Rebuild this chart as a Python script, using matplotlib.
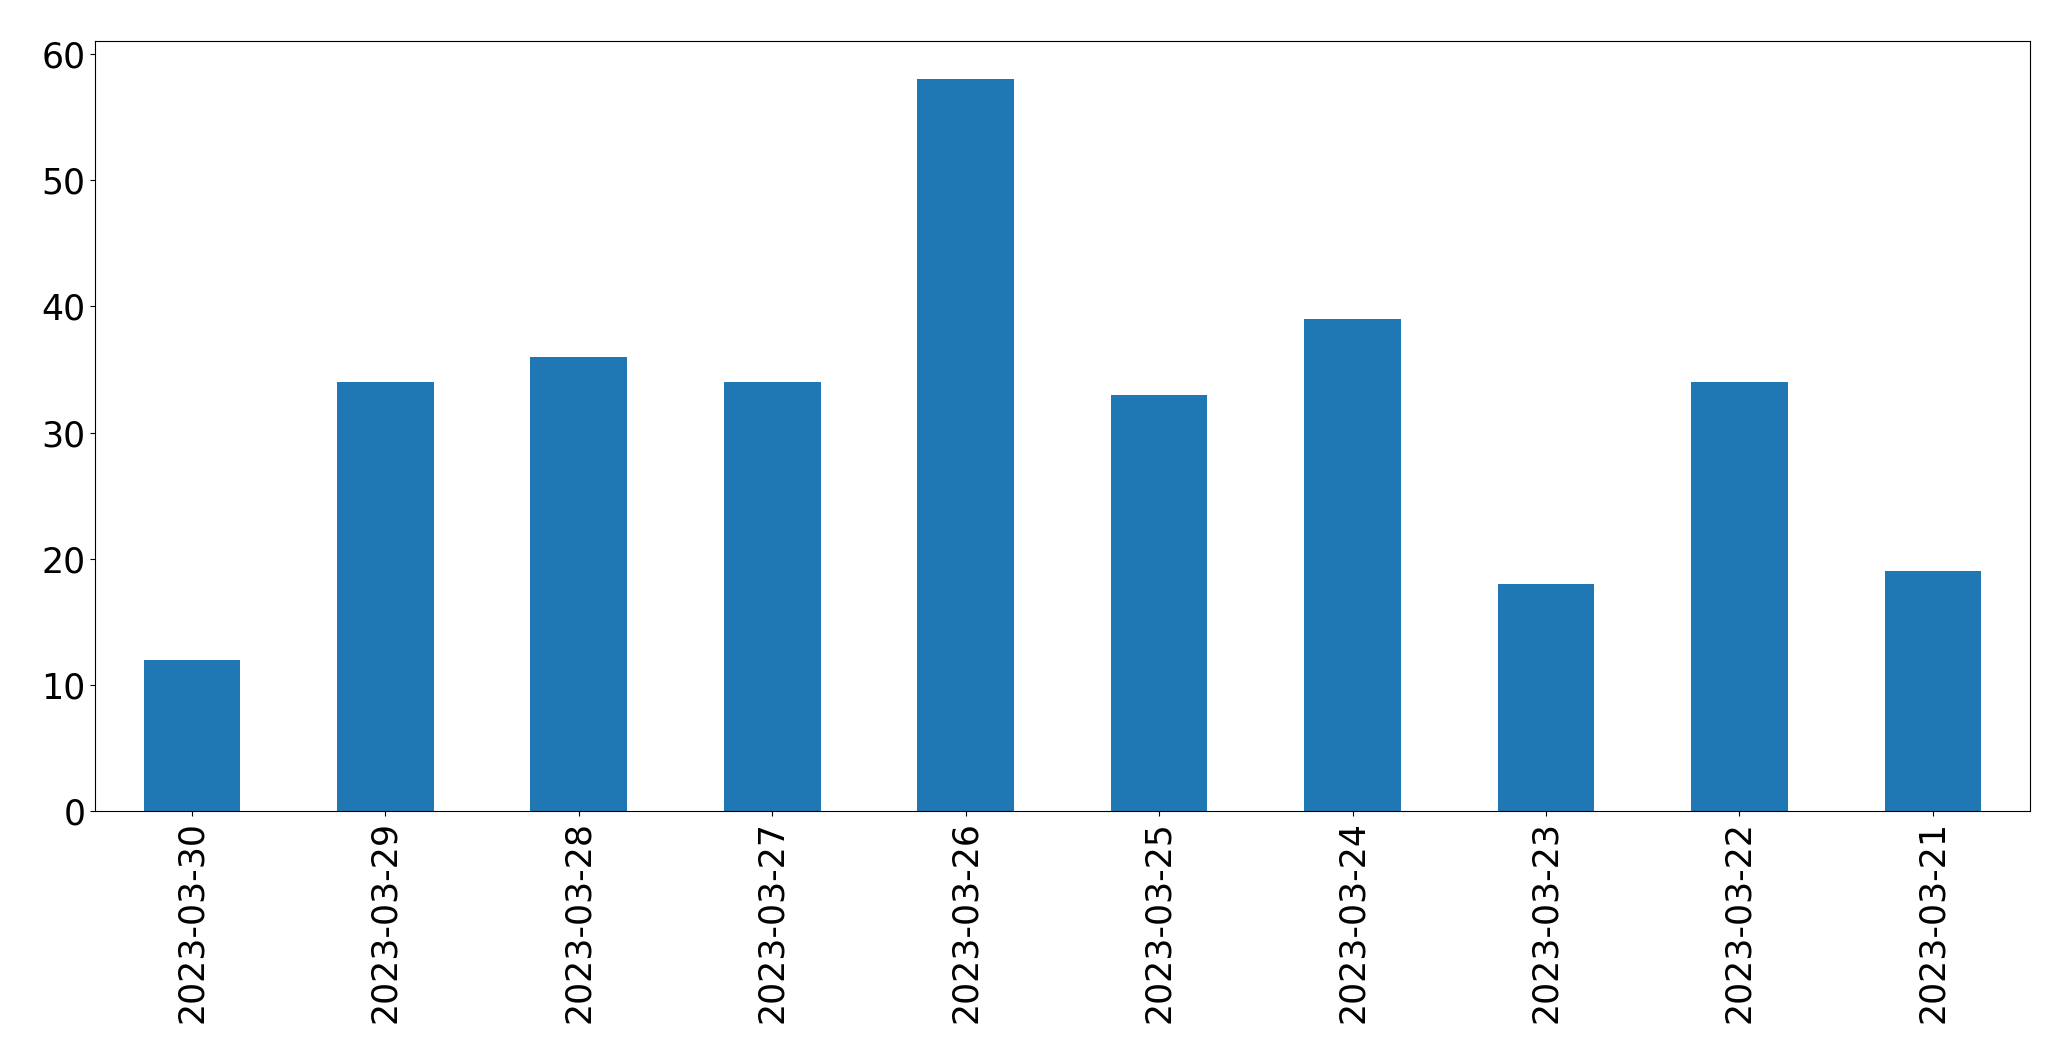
import pandas as pd
import matplotlib.pyplot as plt

dates = ['2023-03-30', '2023-03-29', '2023-03-28', '2023-03-27', '2023-03-26',
         '2023-03-25', '2023-03-24', '2023-03-23', '2023-03-22', '2023-03-21']
counts = [12, 34, 36, 34, 58, 33, 39, 18, 34, 19]

s = pd.Series(counts, index=dates)

fig, ax = plt.subplots(figsize=(20.71, 10.63), dpi=100)
s.plot(kind='bar', ax=ax, color='#1f77b4', fontsize=25)
ax.set_ylim(0, 61)
plt.subplots_adjust(left=0.046, right=0.980, top=0.961, bottom=0.237)
fig.savefig('out.png', dpi=100)
